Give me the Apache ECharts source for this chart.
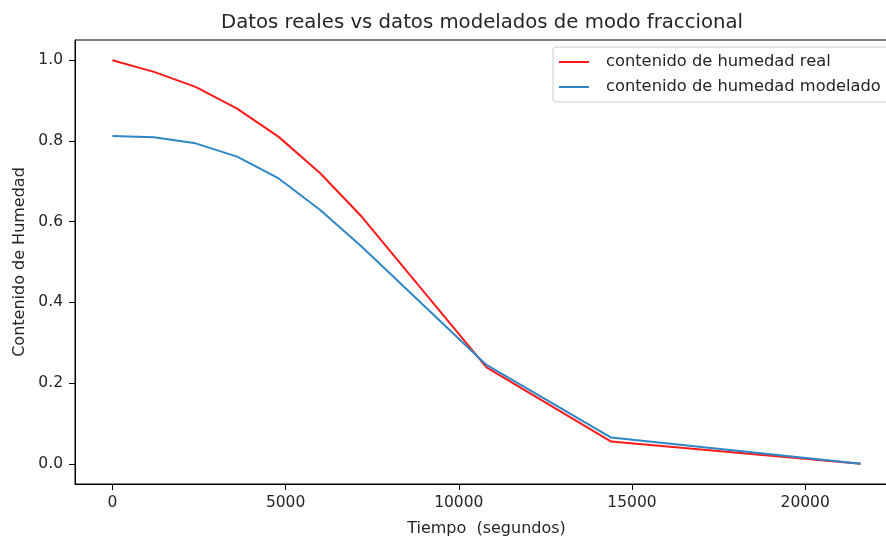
<!DOCTYPE html>
<html>
<head>
<meta charset="utf-8">
<script src="https://cdn.jsdelivr.net/npm/echarts@6/dist/echarts.min.js"></script>
<style>
  html, body { margin: 0; padding: 0; background: #fff; }
  #chart { width: 886px; height: 537px; }
</style>
</head>
<body>
<div id="chart"></div>
<script>
// Drying time in seconds
const tiempo = [0, 1200, 2400, 3600, 4800, 6000, 7200, 10800, 14400, 21600];
// Measured moisture content
const humedadReal = [1.0, 0.971, 0.934, 0.880, 0.810, 0.720, 0.612, 0.239, 0.055, 0.0];
// Moisture content from the fractional model
const humedadModelado = [0.812, 0.809, 0.794, 0.761, 0.707, 0.629, 0.538, 0.245, 0.065, 0.0];

const xTicks = [0, 5000, 10000, 15000, 20000];
const yTicks = [0.0, 0.2, 0.4, 0.6, 0.8, 1.0];

const FONT = 'DejaVu Sans';
const TEXT = '#262626';
const FS = 15.5;

const pairs = (xs, ys) => xs.map((x, i) => [x, ys[i]]);

const chart = echarts.init(document.getElementById('chart'), null, { renderer: 'canvas' });
chart.setOption({
  animation: false,
  backgroundColor: '#fff',
  title: {
    text: 'Datos reales vs datos modelados de modo fraccional',
    left: 477, top: 8, textAlign: 'center',
    textStyle: { fontFamily: FONT, fontSize: 19.7, fontWeight: 'normal', color: TEXT }
  },
  grid: {
    left: 75, top: 40, width: 823, height: 444,
    outerBoundsMode: 'none',
    containLabel: false,
    show: true, borderColor: '#000', borderWidth: 1, backgroundColor: 'transparent'
  },
  legend: {
    orient: 'vertical',
    left: 553, top: 47,
    padding: [7, 8, 7, 6],
    itemGap: 9,
    itemWidth: 30, itemHeight: 2,
    icon: 'rect',
    backgroundColor: 'rgba(255,255,255,0.8)',
    borderColor: '#cccccc', borderWidth: 1, borderRadius: 3,
    textStyle: { fontFamily: FONT, fontSize: 16.3, color: TEXT, padding: [0, 0, 0, 12] },
    data: ['contenido de humedad real', 'contenido de humedad modelado']
  },
  xAxis: {
    type: 'value',
    min: -1080, max: 22680,
    name: 'Tiempo  (segundos)',
    nameLocation: 'middle', nameGap: 37,
    nameTextStyle: { fontFamily: FONT, fontSize: 16, color: TEXT },
    axisLine: { show: true, onZero: false, lineStyle: { color: '#000', width: 1 } },
    axisTick: { show: true, inside: false, length: 6, lineStyle: { color: '#000' }, customValues: xTicks },
    axisLabel: {
      fontFamily: FONT, fontSize: FS, color: TEXT, margin: 11,
      customValues: xTicks,
      formatter: v => String(v)
    },
    splitLine: { show: false }
  },
  yAxis: {
    type: 'value',
    min: -0.05, max: 1.05,
    name: 'Contenido de Humedad',
    nameLocation: 'middle', nameGap: 44,
    nameTextStyle: { fontFamily: FONT, fontSize: 16, color: TEXT },
    axisLine: { show: true, onZero: false, lineStyle: { color: '#000', width: 1 } },
    axisTick: { show: true, inside: false, length: 6, lineStyle: { color: '#000' }, customValues: yTicks },
    axisLabel: {
      fontFamily: FONT, fontSize: FS, color: TEXT, margin: 12,
      customValues: yTicks,
      formatter: v => v.toFixed(1)
    },
    splitLine: { show: false }
  },
  series: [
    {
      name: 'contenido de humedad real',
      type: 'line',
      data: pairs(tiempo, humedadReal),
      showSymbol: false,
      lineStyle: { color: '#ff1a1a', width: 2 },
      itemStyle: { color: '#ff1a1a' },
      z: 2
    },
    {
      name: 'contenido de humedad modelado',
      type: 'line',
      data: pairs(tiempo, humedadModelado),
      showSymbol: false,
      lineStyle: { color: '#2f86c6', width: 2 },
      itemStyle: { color: '#2f86c6' },
      z: 3
    }
  ]
});
</script>
</body>
</html>
